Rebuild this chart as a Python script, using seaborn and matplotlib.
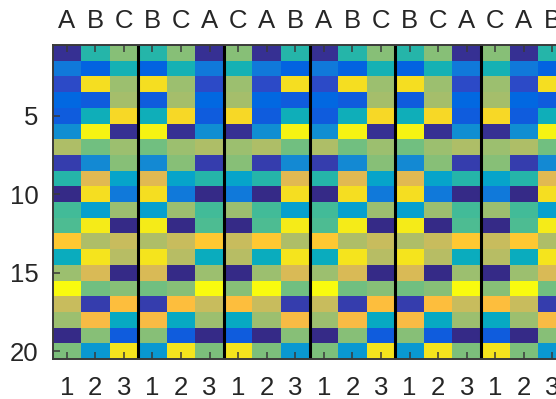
import numpy as np
import pandas as pd
import matplotlib
matplotlib.use("Agg")
import matplotlib.pyplot as plt
from matplotlib.colors import ListedColormap
import seaborn as sns

# ---- data ----
rows = list(range(1, 21))
A = [0.03, 0.21, 0.08, 0.15, 0.11, 0.29, 0.68, 0.06, 0.47, 0.00,
     0.52, 0.54, 0.86, 0.41, 0.65, 1.00, 0.73, 0.65, 0.01, 0.60]
B = [0.47, 0.14, 0.93, 0.11, 0.43, 0.98, 0.59, 0.27, 0.78, 0.93,
     0.35, 0.96, 0.68, 0.95, 0.75, 0.59, 0.06, 0.82, 0.62, 0.32]
C = [0.62, 0.44, 0.65, 0.67, 0.92, 0.03, 0.65, 0.62, 0.37, 0.21,
     0.65, 0.00, 0.73, 0.70, 0.01, 0.62, 0.83, 0.40, 0.12, 0.95]
top_labels = ["A", "B", "C", "B", "C", "A", "C", "A", "B",
              "A", "B", "C", "B", "C", "A", "C", "A", "B"]
bottom_labels = ["1", "2", "3"] * 6
y_tick_labels = ["5", "10", "15", "20"]

base = {"A": A, "B": B, "C": C}
df = pd.DataFrame({f"c{i}": base[lab] for i, lab in enumerate(top_labels)}, index=rows)

# ---- parula colormap (MATLAB) ----
parula_list = [
[0.2081,0.1663,0.5292],[0.2116,0.1898,0.5777],[0.2123,0.2138,0.6270],[0.2081,0.2386,0.6771],
[0.1959,0.2645,0.7279],[0.1707,0.2919,0.7792],[0.1253,0.3242,0.8303],[0.0591,0.3598,0.8683],
[0.0117,0.3875,0.8820],[0.0060,0.4086,0.8828],[0.0165,0.4266,0.8786],[0.0329,0.4430,0.8720],
[0.0498,0.4586,0.8641],[0.0629,0.4737,0.8554],[0.0723,0.4887,0.8467],[0.0779,0.5040,0.8384],
[0.0793,0.5200,0.8312],[0.0749,0.5375,0.8263],[0.0641,0.5570,0.8240],[0.0488,0.5772,0.8228],
[0.0343,0.5966,0.8199],[0.0265,0.6137,0.8135],[0.0239,0.6287,0.8038],[0.0231,0.6418,0.7913],
[0.0228,0.6535,0.7768],[0.0267,0.6642,0.7607],[0.0384,0.6743,0.7436],[0.0590,0.6838,0.7254],
[0.0843,0.6928,0.7062],[0.1133,0.7015,0.6859],[0.1453,0.7098,0.6646],[0.1801,0.7177,0.6424],
[0.2178,0.7250,0.6193],[0.2586,0.7317,0.5954],[0.3022,0.7376,0.5712],[0.3482,0.7424,0.5473],
[0.3953,0.7459,0.5244],[0.4420,0.7481,0.5033],[0.4871,0.7491,0.4840],[0.5300,0.7491,0.4661],
[0.5709,0.7485,0.4494],[0.6099,0.7473,0.4337],[0.6473,0.7456,0.4188],[0.6834,0.7435,0.4044],
[0.7184,0.7411,0.3905],[0.7525,0.7384,0.3768],[0.7858,0.7356,0.3633],[0.8185,0.7327,0.3498],
[0.8507,0.7299,0.3360],[0.8824,0.7274,0.3217],[0.9139,0.7258,0.3063],[0.9450,0.7261,0.2886],
[0.9739,0.7314,0.2666],[0.9938,0.7455,0.2403],[0.9990,0.7653,0.2164],[0.9955,0.7861,0.1967],
[0.9880,0.8066,0.1794],[0.9789,0.8271,0.1633],[0.9697,0.8481,0.1475],[0.9626,0.8705,0.1309],
[0.9589,0.8949,0.1132],[0.9598,0.9218,0.0948],[0.9661,0.9514,0.0755],[0.9763,0.9831,0.0538]]
parula = ListedColormap(parula_list, name="parula")

plt.rcParams['font.family'] = ['Liberation Sans', 'DejaVu Sans']
TXT = '#262626'

fig = plt.figure(figsize=(5.56, 3.99), dpi=100)
ax = fig.add_axes([52.5/556, 40/399, (566.7-52.5)/556, 314/399])

sns.heatmap(df, cmap=parula, vmin=0, vmax=1, cbar=False, ax=ax,
            xticklabels=False, yticklabels=False)

ncol = len(top_labels)
centers = np.arange(ncol) + 0.5
ax.set_xticks(centers)
ax.set_xticklabels(bottom_labels)
ax.set_yticks([4.5, 9.5, 14.5, 19.5])
ax.set_yticklabels(y_tick_labels, rotation=0)
ax.set_xlabel("")
ax.set_ylabel("")

for g in range(1, 6):
    ax.axvline(3 * g, color='black', lw=2.2, zorder=5)

for s in ax.spines.values():
    s.set_visible(True)
    s.set_color('#3a3a3a')
    s.set_linewidth(1.4)
    s.set_zorder(6)

ax.tick_params(axis='both', direction='in', length=5, width=1.1, color='#3a3a3a',
               labelsize=18.5, labelcolor=TXT)
ax.tick_params(axis='x', pad=12)
ax.tick_params(axis='y', pad=10)

ax2 = ax.twiny()
ax2.set_xlim(ax.get_xlim())
ax2.set_xticks(centers)
ax2.set_xticklabels(top_labels)
ax2.tick_params(axis='x', direction='in', length=5, width=1.1, color='#3a3a3a',
                labelsize=18.5, labelcolor=TXT, pad=9)
for s in ax2.spines.values():
    s.set_visible(False)

fig.savefig("out.png", dpi=100)
